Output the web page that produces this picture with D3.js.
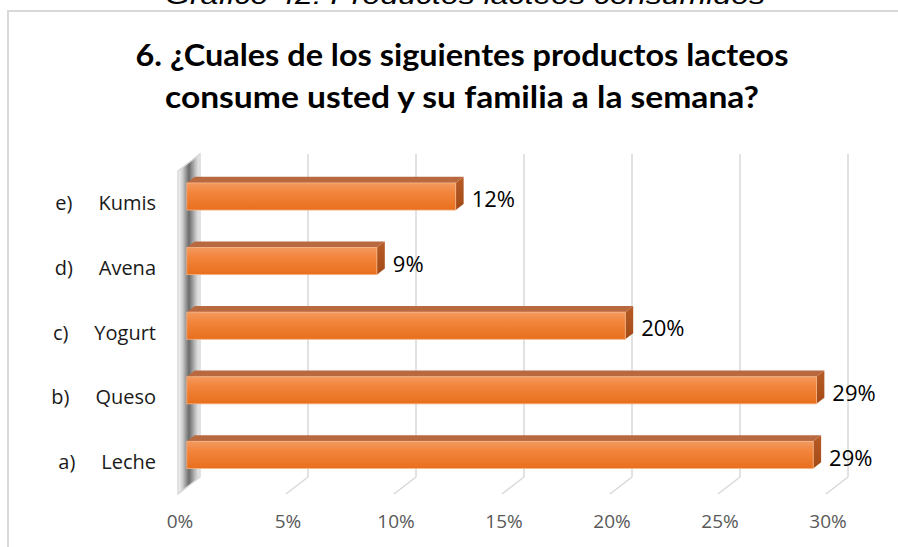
<!DOCTYPE html>
<html>
<head>
<meta charset="utf-8">
<script src="https://cdnjs.cloudflare.com/ajax/libs/d3/7.8.5/d3.min.js"></script>
<style>
  body { margin: 0; background: #fff; }
  svg { display: block; }
</style>
</head>
<body>
<svg id="chart" width="898" height="547"></svg>
<script>
// data
var letters = ["a)", "b)", "c)", "d)", "e)"];
var products = ["Leche", "Queso", "Yogurt", "Avena", "Kumis"];
var shares = [0.290, 0.2915, 0.203, 0.088, 0.1245];
var ticks = [0, 0.05, 0.10, 0.15, 0.20, 0.25, 0.30];
var caption = "Gráfico 42: Productos lacteos consumidos";
var titleLines = ["6. ¿Cuales de los siguientes productos lacteos", "consume usted y su familia a la semana?"];

var width = 898, height = 547;
var svg = d3.select("#chart");

// oblique depth offset (front plane -> back plane)
var DX = 22, DY = -17;
var t0 = 0.4, t1 = 0.76;

var x = d3.scaleLinear().domain([0, 0.30]).range([178, 826]);
var y = d3.scaleBand()
	.domain(letters.slice().reverse())
	.range([171, 494])
	.paddingInner(0.58)
	.paddingOuter(0.29);

var fmt = d3.format(".0%");

// gradients
var defs = svg.append("defs");
var gFront = defs.append("linearGradient").attr("id", "front").attr("x1", 0).attr("y1", 0).attr("x2", 0).attr("y2", 1);
gFront.append("stop").attr("offset", "0").attr("stop-color", "#f39a5f");
gFront.append("stop").attr("offset", "0.35").attr("stop-color", "#f2853c");
gFront.append("stop").attr("offset", "1").attr("stop-color", "#e86f1d");
var gSide = defs.append("linearGradient").attr("id", "side").attr("x1", 0).attr("y1", 0).attr("x2", 0).attr("y2", 1);
gSide.append("stop").attr("offset", "0").attr("stop-color", "#b85c27");
gSide.append("stop").attr("offset", "1").attr("stop-color", "#a24a16");
var gWall = defs.append("linearGradient").attr("id", "wall").attr("x1", 0).attr("y1", 0).attr("x2", 1).attr("y2", 0);
gWall.append("stop").attr("offset", "0").attr("stop-color", "#f7f7f7");
gWall.append("stop").attr("offset", "0.2").attr("stop-color", "#cfcfcf");
gWall.append("stop").attr("offset", "0.5").attr("stop-color", "#6a6a6a");
gWall.append("stop").attr("offset", "0.8").attr("stop-color", "#c4c4c4");
gWall.append("stop").attr("offset", "1").attr("stop-color", "#f2f2f2");

// chart frame
svg.append("path")
	.attr("d", "M8," + height + " L8,11 L" + width + ",11")
	.attr("fill", "none")
	.attr("stroke", "#d9d9d9")
	.attr("stroke-width", 2);

// caption (cut off at the top, as in the source image)
svg.append("text")
	.attr("x", 165)
	.attr("y", 4)
	.attr("textLength", 600)
	.attr("lengthAdjust", "spacingAndGlyphs")
	.style("font-family", "Liberation Sans, Arial, sans-serif")
	.style("font-style", "italic")
	.style("font-size", "26px")
	.attr("fill", "#000")
	.text(caption);

// title
var titleLens = [653, 594];
svg.append("g").selectAll("text")
	.data(titleLines)
	.enter()
	.append("text")
		.attr("x", 462)
		.attr("y", function(d, i) { return 66 + i * 42; })
		.attr("text-anchor", "middle")
		.attr("textLength", function(d, i) { return titleLens[i]; })
		.attr("lengthAdjust", "spacingAndGlyphs")
		.style("font-family", "Lato, sans-serif")
		.style("font-weight", "bold")
		.style("font-size", "31px")
		.attr("fill", "#000")
		.text(function(d) { return d; });

var yTop = y.range()[0], yBot = y.range()[1];

// back gridlines and floor lines
var grid = svg.append("g").attr("class", "grid");
grid.selectAll("line.back")
	.data(ticks.slice(1))
	.enter()
	.append("line")
		.attr("x1", function(d) { return x(d) + DX; })
		.attr("x2", function(d) { return x(d) + DX; })
		.attr("y1", yTop + DY)
		.attr("y2", yBot + DY)
		.attr("stroke", "#d9d9d9")
		.attr("stroke-width", 1.5);
grid.selectAll("line.floor")
	.data(ticks.slice(1))
	.enter()
	.append("line")
		.attr("x1", function(d) { return x(d) + DX; })
		.attr("x2", function(d) { return x(d); })
		.attr("y1", yBot + DY)
		.attr("y2", yBot)
		.attr("stroke", "#d9d9d9")
		.attr("stroke-width", 1.5);

// side wall at 0%
var x0 = x(0);
svg.append("path")
	.attr("d", "M" + x0 + "," + yTop + " L" + (x0 + DX) + "," + (yTop + DY) +
		" L" + (x0 + DX) + "," + (yBot + DY) + " L" + x0 + "," + yBot + "Z")
	.attr("fill", "url(#wall)")
	.attr("stroke", "#d9d9d9")
	.attr("stroke-width", 1.5);

// bars
var rows = letters.map(function(l, i) {
	return { letter: l, name: products[i], value: shares[i] };
});

var bars = svg.append("g").attr("class", "bars")
	.selectAll("g")
	.data(rows)
	.enter()
	.append("g");

var dxs = DX * (t1 - t0), dys = DY * (t1 - t0);
function fx(v) { return x(v) + DX * t0; }
function fy(d) { return y(d.letter) + DY * t0; }

// top face
bars.append("path")
	.attr("d", function(d) {
		var xa = fx(0), xb = fx(d.value), yy = fy(d);
		return "M" + xa + "," + yy + " L" + xb + "," + yy + " L" + (xb + dxs) + "," + (yy + dys) +
			" L" + (xa + dxs) + "," + (yy + dys) + "Z";
	})
	.attr("fill", "#b9693f");

// side face
bars.append("path")
	.attr("d", function(d) {
		var xb = fx(d.value), yy = fy(d), h = y.bandwidth();
		return "M" + xb + "," + yy + " L" + (xb + dxs) + "," + (yy + dys) + " L" + (xb + dxs) + "," + (yy + dys + h) +
			" L" + xb + "," + (yy + h) + "Z";
	})
	.attr("fill", "url(#side)");

// front face
bars.append("rect")
	.attr("x", fx(0))
	.attr("y", function(d) { return fy(d); })
	.attr("width", function(d) { return fx(d.value) - fx(0); })
	.attr("height", y.bandwidth())
	.attr("fill", "url(#front)")
	.attr("stroke", "#f7b486")
	.attr("stroke-width", 0.8);

// value labels
bars.append("text")
	.attr("x", function(d) { return fx(d.value) + dxs + 8; })
	.attr("y", function(d) { return fy(d) + y.bandwidth() / 2 + 3; })
	.attr("dy", "0.35em")
	.style("font-family", "Open Sans, sans-serif")
	.style("font-size", "22px")
	.attr("fill", "#000")
	.text(function(d) { return fmt(d.value); });

// category labels
svg.append("g").selectAll("text")
	.data(rows)
	.enter()
	.append("text")
		.attr("x", 156)
		.attr("y", function(d) { return y(d.letter) + y.bandwidth() / 2; })
		.attr("dy", "0.35em")
		.attr("text-anchor", "end")
		.attr("xml:space", "preserve")
		.style("white-space", "pre")
		.style("font-family", "Open Sans, sans-serif")
		.style("font-size", "20px")
		.attr("fill", "#1a1a1a")
		.text(function(d) { return d.letter + "     " + d.name; });

// value axis labels (front edge)
svg.append("g").selectAll("text")
	.data(ticks)
	.enter()
	.append("text")
		.attr("x", function(d) { return x(d) + 2; })
		.attr("y", 521)
		.attr("dy", "0.35em")
		.attr("text-anchor", "middle")
		.style("font-family", "Open Sans, sans-serif")
		.style("font-size", "19px")
		.attr("fill", "#595959")
		.text(function(d) { return fmt(d); });
</script>
</body>
</html>
